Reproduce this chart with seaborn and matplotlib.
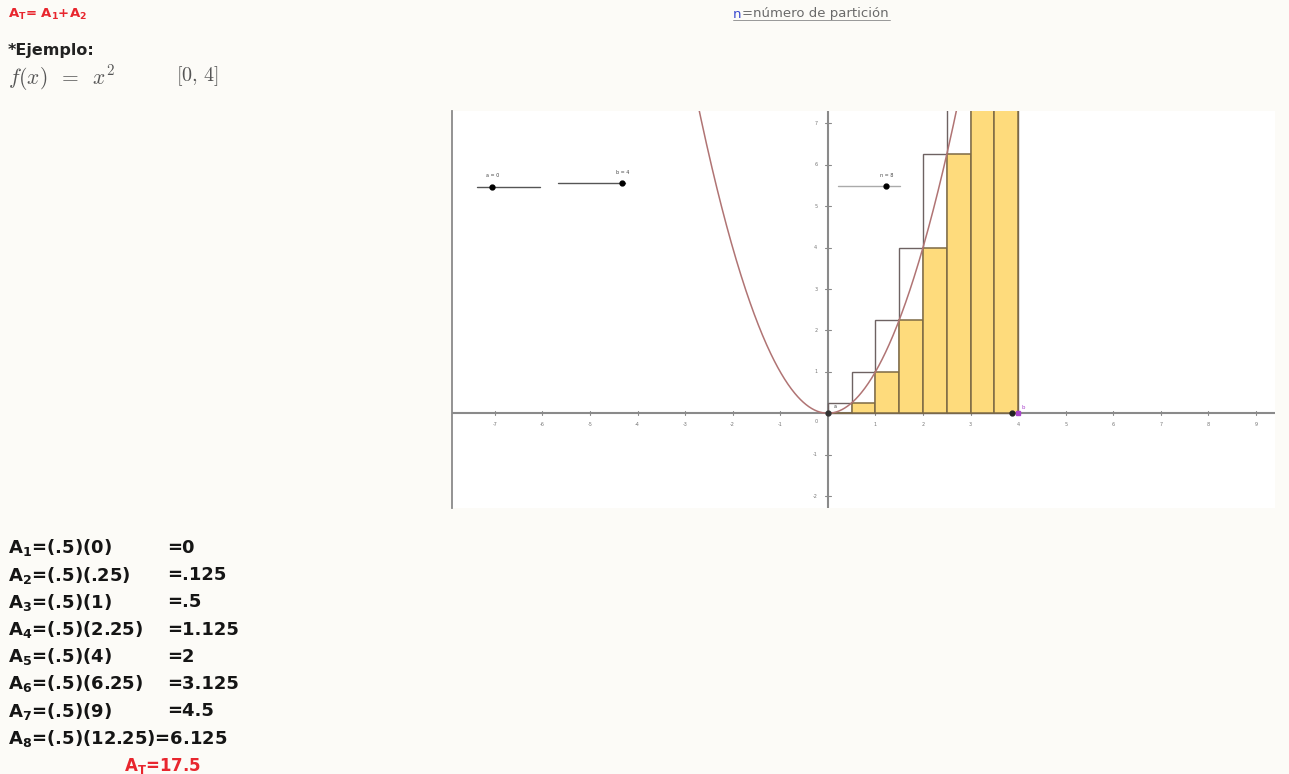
import numpy as np
import seaborn as sns
import matplotlib.pyplot as plt

# datos: suma de Riemann de f(x)=x^2 en [0, 4], n = 8
bordes = [0, 0.5, 1, 1.5, 2, 2.5, 3, 3.5, 4]
medios = [0.25, 0.75, 1.25, 1.75, 2.25, 2.75, 3.25, 3.75]
alt_inf = [0, 0.25, 1, 2.25, 4, 6.25, 9, 12.25]      # suma inferior (amarilla)
alt_sup = [0.25, 1, 2.25, 4, 6.25, 9, 12.25, 16]     # suma superior (contorno)
xticks = [-7, -6, -5, -4, -3, -2, -1, 1, 2, 3, 4, 5, 6, 7, 8, 9]
yticks = [-2, -1, 1, 2, 3, 4, 5, 6, 7]

izq = ["A$_\\mathbf{1}$=(.5)(0)", "A$_\\mathbf{2}$=(.5)(.25)", "A$_\\mathbf{3}$=(.5)(1)",
       "A$_\\mathbf{4}$=(.5)(2.25)", "A$_\\mathbf{5}$=(.5)(4)", "A$_\\mathbf{6}$=(.5)(6.25)",
       "A$_\\mathbf{7}$=(.5)(9)", "A$_\\mathbf{8}$=(.5)(12.25)"]
der = ["=0", "=.125", "=.5", "=1.125", "=2", "=3.125", "=4.5", "=6.125"]

sns.set_theme(style="white")
plt.rcParams['font.family'] = ['DejaVu Sans']
plt.rcParams['mathtext.fontset'] = 'dejavusans'

W, H = 1289, 774
fig = plt.figure(figsize=(W / 100, H / 100), dpi=100)
fig.patch.set_facecolor('#fcfbf7')

def ftxt(x, y, s, **kw):
    return fig.text(x / W, 1 - y / H, s, **kw)

# ---- textos de la diapositiva
ftxt(8, 14, "A$_\\mathbf{T}$= A$_\\mathbf{1}$+A$_\\mathbf{2}$", color='#e8262e',
     fontsize=9.5, fontweight='bold', va='center')
ftxt(8, 50, "*Ejemplo:", color='#222222', fontsize=11.5, fontweight='bold', va='center')
ftxt(8, 78, "$f(x)\\;\\;=\\;\\;x^2$", color='#555555', fontsize=15.5, va='center', math_fontfamily='cm')
ftxt(176, 76, "$[0,\\, 4]$", color='#555555', fontsize=14.5, va='center', math_fontfamily='cm')

ftxt(733, 14, "n", color='#3a4ad0', fontsize=9.5, va='center')
ftxt(742, 14, "=número de partición", color='#6a6a6a', fontsize=9.5, va='center')
fig.add_artist(plt.Line2D([733 / W, 890 / W], [1 - 20 / H, 1 - 20 / H], color='#888888', lw=0.6))

for i, (a, b) in enumerate(zip(izq, der)):
    y = 548 + i * 27.2
    if i == 7:
        ftxt(8, y, a + b, color='#151515', fontsize=13, fontweight='bold', va='center')
    else:
        ftxt(8, y, a, color='#151515', fontsize=13, fontweight='bold', va='center')
        ftxt(167, y, b, color='#151515', fontsize=13, fontweight='bold', va='center')
ftxt(124, 766, "A$_\\mathbf{T}$=17.5", color='#e8262e', fontsize=12, fontweight='bold', va='center')

# ---- vista grafica
ax = fig.add_axes([452 / W, 1 - 508.5 / H, 823 / W, 397.5 / H])
ax.set_facecolor('white')
for s in ['top', 'right', 'bottom']:
    ax.spines[s].set_visible(False)
ax.spines['left'].set_color('#8a8a8a')
ax.spines['left'].set_linewidth(1.3)

ax.axhline(0, color='#8a8a8a', lw=1.5, zorder=1)
ax.axvline(0, color='#8a8a8a', lw=1.5, zorder=1)

for v in xticks:
    ax.plot([v, v], [-0.05, 0.05], color='#8a8a8a', lw=0.8, zorder=1)
    ax.text(v, -0.28, str(v), fontsize=3.5, color='#777777', ha='center', va='center')
for v in yticks:
    ax.plot([-0.06, 0.06], [v, v], color='#8a8a8a', lw=0.8, zorder=1)
    ax.text(-0.22, v, str(v), fontsize=3.5, color='#777777', ha='right', va='center')
ax.text(-0.22, -0.2, "0", fontsize=3.5, color='#777777', ha='right', va='center')

# suma superior (solo contorno)
sns.histplot(x=medios, weights=alt_sup, bins=bordes, ax=ax, fill=False,
             color='#6e6262', linewidth=1.0, zorder=2)
# suma inferior (barras amarillas)
sns.histplot(x=medios, weights=alt_inf, bins=bordes, ax=ax, color='#fedb7c', alpha=1,
             edgecolor='#7d6a45', linewidth=1.1, zorder=3)

xs = np.linspace(-2.9, 2.9, 400)
sns.lineplot(x=xs, y=xs ** 2, ax=ax, color='#b07474', lw=1.1, zorder=4)

ax.set_xlim(-7.9, 9.4)
ax.set_ylim(-2.3, 7.3)
ax.set_xticks([])
ax.set_yticks([])
ax.set_xlabel("")
ax.set_ylabel("")

# puntos
ax.plot(0, 0, 'o', color='#333333', ms=3.5, zorder=6)
ax.text(0.12, 0.12, "a", fontsize=3.5, color='#444444', zorder=6)
ax.plot(3.88, 0, 'o', color='#222222', ms=3.5, zorder=6)
ax.plot(4, 0, 's', color='#aa44cc', ms=3, zorder=6)
ax.text(4.08, 0.1, "b", fontsize=4, color='#aa44cc', zorder=6)

# deslizadores
ax.plot([-7.37, -6.05], [5.47, 5.47], color='#555555', lw=1.0, zorder=5)
ax.plot(-7.06, 5.47, 'o', color='black', ms=3.5, zorder=6)
ax.text(-7.04, 5.7, "a = 0", fontsize=3.5, color='#444444', ha='center')
ax.plot([-5.67, -4.26], [5.56, 5.56], color='#555555', lw=1.0, zorder=5)
ax.plot(-4.33, 5.56, 'o', color='black', ms=3.5, zorder=6)
ax.text(-4.31, 5.79, "b = 4", fontsize=3.5, color='#444444', ha='center')
ax.plot([0.21, 1.51], [5.49, 5.49], color='#aaaaaa', lw=1.0, zorder=5)
ax.plot(1.22, 5.49, 'o', color='black', ms=3.5, zorder=6)
ax.text(1.24, 5.7, "n = 8", fontsize=3.5, color='#444444', ha='center')

fig.savefig("out.png", dpi=100, facecolor=fig.get_facecolor())
